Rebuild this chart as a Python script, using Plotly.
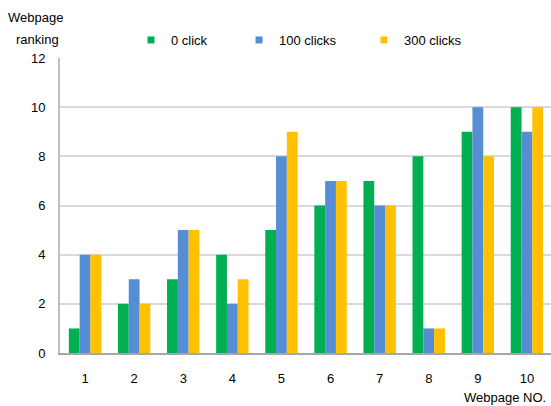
import plotly.graph_objects as go

pages = ["1", "2", "3", "4", "5", "6", "7", "8", "9", "10"]
click0 = [1, 2, 3, 4, 5, 6, 7, 8, 9, 10]
click100 = [4, 3, 5, 2, 8, 7, 6, 1, 10, 9]
click300 = [4, 2, 5, 3, 9, 7, 6, 1, 8, 10]
series_names = ["0 click", "100 clicks", "300 clicks"]
colors = ["#00B050", "#558ED5", "#FFC000"]
yticks = [0, 2, 4, 6, 8, 10, 12]

FONT = "Liberation Sans, Arial, sans-serif"
legend_ids = ["legend", "legend2", "legend3"]
legend_x = [0.1446, 0.3646, 0.6191]

fig = go.Figure()
for name, vals, col, lid in zip(series_names, [click0, click100, click300], colors, legend_ids):
    fig.add_trace(go.Bar(x=pages, y=vals, name=name, marker_color=col,
                         marker_line_width=0, showlegend=False))
    fig.add_trace(go.Scatter(x=[None], y=[None], mode="markers", name=name,
                             marker=dict(symbol="square", size=7, color=col),
                             showlegend=True, legend=lid))

legend_common = dict(orientation="h", y=1.061, yanchor="middle", xanchor="left",
                     itemwidth=30, font=dict(size=13, family=FONT),
                     bgcolor="rgba(0,0,0,0)")
fig.update_layout(
    width=551, height=406,
    margin=dict(l=60, r=0, t=58, b=53),
    paper_bgcolor="white", plot_bgcolor="white",
    barmode="group", bargap=0.34, bargroupgap=0,
    font=dict(family=FONT, size=13, color="#000000"),
    legend=dict(x=legend_x[0], **legend_common),
    legend2=dict(x=legend_x[1], **legend_common),
    legend3=dict(x=legend_x[2], **legend_common),
    xaxis=dict(type="category", range=[-0.51, 9.49],
               showline=True, linecolor="#A6A6A6", linewidth=2, showgrid=False,
               ticks="outside", ticklen=12, tickcolor="rgba(0,0,0,0)", zeroline=False,
               tickfont=dict(size=13, family=FONT)),
    yaxis=dict(range=[0, 12], tickvals=yticks, showgrid=True, gridcolor="#D9D9D9",
               gridwidth=1.5, showline=True, linecolor="#BFBFBF", linewidth=2,
               zeroline=False, ticks="outside", ticklen=10, tickcolor="rgba(0,0,0,0)",
               tickfont=dict(size=13, family=FONT)),
)

fig.add_annotation(text="Webpage", xref="paper", yref="paper", x=-0.0493, y=1.138,
                   xanchor="center", yanchor="middle", showarrow=False,
                   font=dict(size=13, family=FONT))
fig.add_annotation(text="ranking", xref="paper", yref="paper", x=-0.0452, y=1.0634,
                   xanchor="center", yanchor="middle", showarrow=False,
                   font=dict(size=13, family=FONT))
fig.add_annotation(text="Webpage NO.", xref="paper", yref="paper", x=0.9939, y=-0.1525,
                   xanchor="right", yanchor="middle", showarrow=False,
                   font=dict(size=13, family=FONT))

fig.write_html("out.html")
